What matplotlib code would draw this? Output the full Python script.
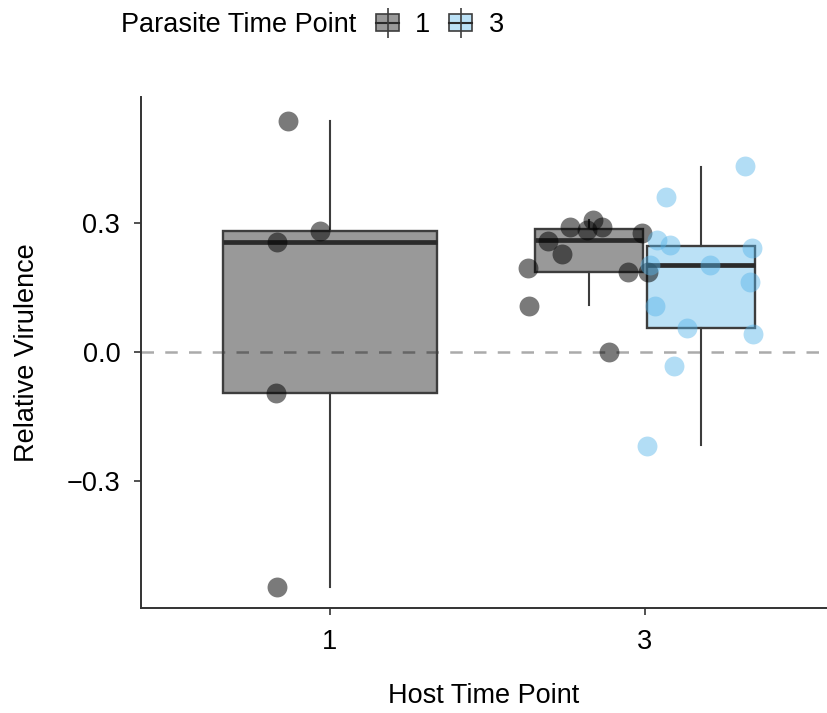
import numpy as np
import matplotlib.pyplot as plt
from matplotlib.patches import Patch
from matplotlib.lines import Line2D

plt.rcParams['font.family'] = ['Liberation Sans', 'DejaVu Sans']

# ---------- data ----------
host_labels = ['1', '3']
parasite_labels = ['1', '3']

# one box per (host, parasite) combination present
box_host = [0, 1, 1]
box_parasite = [0, 0, 1]
box_whislo = [-0.546, 0.109, -0.216]
box_q1 = [-0.095, 0.187, 0.057]
box_med = [0.256, 0.260, 0.202]
box_q3 = [0.282, 0.285, 0.247]
box_whishi = [0.536, 0.307, 0.431]

# jittered points (value, jitter offset from host position)
h1p1_y = [0.536, 0.282, 0.256, -0.095, -0.546]
h1p1_jit = [-0.134, -0.032, -0.169, -0.171, -0.169]

h3p1_y = [0.195, 0.257, 0.229, 0.291, 0.307, 0.291, 0.284, 0.187, 0.276, 0.187, 0.108, 0.0]
h3p1_jit = [-0.370, -0.307, -0.264, -0.238, -0.164, -0.137, -0.185, -0.053, -0.010, 0.010, -0.367, -0.113]

h3p3_y = [0.433, 0.360, 0.260, 0.249, 0.202, 0.202, 0.241, 0.163, 0.106, 0.057, 0.042, -0.033, -0.219]
h3p3_jit = [0.317, 0.066, 0.037, 0.079, 0.016, 0.206, 0.339, 0.333, 0.032, 0.132, 0.344, 0.093, 0.007]

# ---------- style ----------
fill_cols = [(0, 0, 0, 0.40), (0.337, 0.706, 0.914, 0.40)]
point_cols = [(0, 0, 0, 0.52), (0.337, 0.706, 0.914, 0.45)]
edge = '#3d3d3d'
fs = 19.5

fig = plt.figure(figsize=(8.27, 7.13), dpi=100)
ax = fig.add_axes([0.1705, 0.1473, 0.8295, 0.7167])

dodge = 0.71
n_in_host = [box_host.count(h) for h in range(len(host_labels))]

stats, positions, widths, fills = [], [], [], []
for i in range(len(box_host)):
    h = box_host[i]
    n = n_in_host[h]
    slot = dodge / n
    k = [j for j in range(len(box_host)) if box_host[j] == h].index(i)
    positions.append(h + 1 - dodge / 2 + slot * (k + 0.5))
    widths.append(slot * 0.96)
    fills.append(fill_cols[box_parasite[i]])
    stats.append(dict(whislo=box_whislo[i], q1=box_q1[i], med=box_med[i],
                      q3=box_q3[i], whishi=box_whishi[i], fliers=[]))

bp = ax.bxp(stats, positions=positions, widths=widths, patch_artist=True,
            showcaps=False, showfliers=False,
            boxprops=dict(edgecolor=edge, linewidth=1.7),
            whiskerprops=dict(color=edge, linewidth=1.5),
            medianprops=dict(color='#2b2b2b', linewidth=3.4, solid_capstyle='butt'))
for patch, c in zip(bp['boxes'], fills):
    patch.set_facecolor(c)

ax.axhline(0, color='#ababab', lw=1.8, linestyle=(0, (5, 4.5)), zorder=1.5)

groups = [(0, 0, h1p1_y, h1p1_jit), (1, 0, h3p1_y, h3p1_jit), (1, 1, h3p3_y, h3p3_jit)]
for h, p, ys, jit in groups:
    xs = np.array(jit) + h + 1
    ax.scatter(xs, ys, s=205, color=point_cols[p], linewidths=0, zorder=3)

ax.set_xlim(0.4, 2.578)
ax.set_ylim(-0.595, 0.593)
ax.set_xticks([1, 2])
ax.set_xticklabels(host_labels)
ax.set_yticks([-0.3, 0.0, 0.3])
ax.set_yticklabels(['\u22120.3', '0.0', '0.3'])

for s in ['top', 'right']:
    ax.spines[s].set_visible(False)
for s in ['left', 'bottom']:
    ax.spines[s].set_color('#333333')
    ax.spines[s].set_linewidth(1.4)
ax.tick_params(axis='both', length=5, width=1.2, color='#333333',
               labelsize=fs, labelcolor='black', pad=10)

ax.set_xlabel('Host Time Point', fontsize=fs, labelpad=20)
ax.set_ylabel('Relative Virulence', fontsize=fs, labelpad=19)

# legend on top, title to the left of the keys
fig.text(121 / 827, 1 - 25 / 713, 'Parasite Time Point', fontsize=fs,
         ha='left', va='center')
handles = []
for p in range(len(parasite_labels)):
    handles.append((Patch(facecolor=fill_cols[p], edgecolor=edge, linewidth=1.2),
                    Line2D([], [], color='#2b2b2b', lw=1.5),
                    Line2D([], [], marker='|', markersize=22, color=edge,
                           markeredgewidth=1.2, linestyle='none')))
fig.legend(handles, parasite_labels, loc='center left',
           bbox_to_anchor=(376 / 827, 1 - 25 / 713), ncol=2, frameon=False,
           fontsize=fs, handlelength=0.85, handleheight=0.6,
           handletextpad=0.6, columnspacing=0.7, borderpad=0, borderaxespad=0)

fig.savefig('out.png', dpi=100)
